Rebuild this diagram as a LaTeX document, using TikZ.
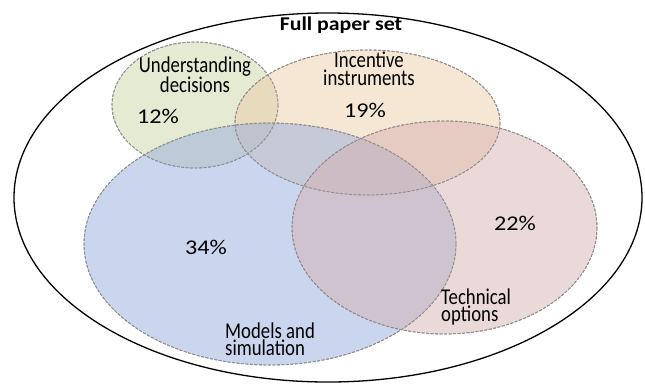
\documentclass[tikz,border=0pt]{standalone}
\usepackage{fontspec}
\setmainfont{Carlito}
\newfontfamily\labfont{Carlito}[FakeStretch=0.83]
\newfontfamily\pctfont{Carlito}[FakeStretch=1.15]
\newfontfamily\ttlfont{Carlito}[FakeStretch=1.12]
\definecolor{cgreen}{HTML}{CBD5A7}
\definecolor{corange}{HTML}{EDCDA9}
\definecolor{cblue}{HTML}{95ADDD}
\definecolor{cpink}{HTML}{D7B1B3}
\definecolor{cdash}{HTML}{8C8C8C}
\begin{document}
\begin{tikzpicture}[x=1pt,y=-1pt,
  setshape/.style={draw=cdash, line width=0.8pt, dash pattern=on 3pt off 1.5pt, fill opacity=0.5},
  outerset/.style={draw=black, line width=1.3pt},
  lab/.style={inner sep=0pt, font=\labfont\fontsize{22.6}{15.7}\selectfont},
  pct/.style={inner sep=0pt, anchor=base, font=\pctfont\fontsize{21}{21}\selectfont},
  ttl/.style={inner sep=0pt, anchor=base, font=\ttlfont\bfseries\fontsize{19.5}{20}\selectfont}]
\useasboundingbox (0,0) rectangle (645,384);
\draw[outerset] (328,197.5) ellipse [x radius=314, y radius=184.5];
\fill[setshape, fill=cgreen] (195,105) ellipse [x radius=83, y radius=63];
\fill[setshape, fill=corange] (367.5,122.5) ellipse [x radius=132.5, y radius=72.5];
\fill[setshape, fill=cblue] (270,244) ellipse [x radius=186, y radius=121];
\fill[setshape, fill=cpink] (444.5,227.5) ellipse [x radius=152.5, y radius=106.5];
\draw[setshape, fill opacity=0] (195,105) ellipse [x radius=83, y radius=63];
\draw[setshape, fill opacity=0] (367.5,122.5) ellipse [x radius=132.5, y radius=72.5];
\draw[setshape, fill opacity=0] (270,244) ellipse [x radius=186, y radius=121];
\draw[setshape, fill opacity=0] (444.5,227.5) ellipse [x radius=152.5, y radius=106.5];
\node[ttl] (title) at (341,30) {Full paper set};
\node[lab, anchor=base, align=center] (und) at (195,92.7) {Understanding\\decisions};
\node[lab, anchor=base, align=center, font=\labfont\fontsize{22.6}{17.7}\selectfont] (inc) at (369,85) {Incentive\\instruments};
\node[lab, anchor=base west, align=left, font=\labfont\fontsize{22.6}{16.5}\selectfont] (tech) at (441,321) {Technical\\options};
\node[lab, anchor=base west, align=left, font=\labfont\fontsize{22.6}{17}\selectfont] (mod) at (225,355) {Models and\\simulation};
\node[pct, anchor=base west] (p12) at (137,123) {12\%};
\node[pct] (p19) at (365,117) {19\%};
\node[pct] (p34) at (206,254) {34\%};
\node[pct] (p22) at (515,230) {22\%};
\end{tikzpicture}
\end{document}
